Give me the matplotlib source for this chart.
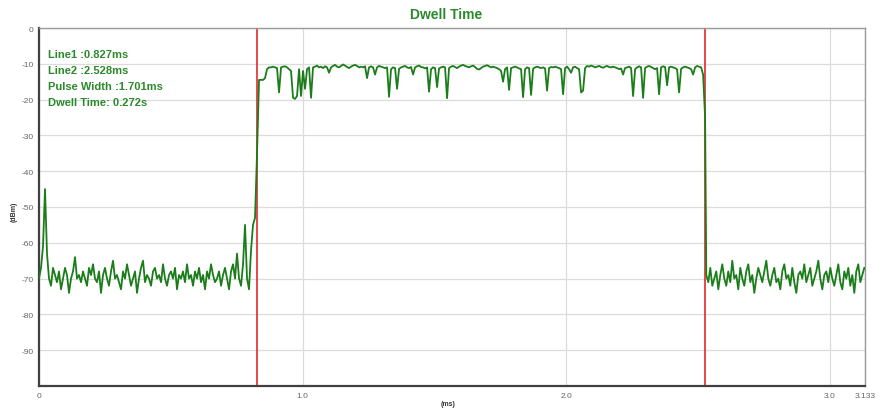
import numpy as np
import matplotlib
matplotlib.use("Agg")
import matplotlib.pyplot as plt

plt.rcParams['font.family'] = ['Liberation Sans', 'DejaVu Sans']

# ---- data ----
sample_interval_ms = 0.007587
pre_start_ms = 0.0
pulse_start_ms = 0.827
post_start_ms = 2.531
line1_ms = 0.827
line2_ms = 2.528
x_max_ms = 3.133

pre_dbm = [
    -70, -67, -61, -45, -63, -70, -72, -67, -69, -71,
    -68, -73, -70, -67, -69, -74, -70, -68, -64, -70,
    -69, -71, -68, -70, -72, -67, -69, -66, -70, -71,
    -68, -74, -69, -67, -70, -72, -68, -65, -70, -69,
    -71, -73, -68, -70, -66, -69, -72, -70, -68, -74,
    -70, -67, -65, -71, -69, -70, -72, -68, -67, -70,
    -69, -71, -66, -70, -72, -69, -68, -70, -67, -73,
    -69, -70, -68, -71, -66, -70, -69, -72, -68, -70,
    -67, -71, -69, -73, -68, -70, -66, -69, -71, -70,
    -68, -72, -69, -67, -70, -73, -68, -66, -70, -63,
    -70, -72, -66, -55, -70, -73, -62, -55, -53,
]

pulse_dbm = [
    -35, -14.5, -14.5, -14.5, -14, -11.5, -11, -11, -10.8, -11,
    -11.2, -18, -11, -10.8, -10.7, -11, -11.5, -12, -19.5, -19.8,
    -19, -11.5, -19, -12, -17, -11.5, -11, -19.5, -11, -10.8,
    -10.5, -11, -10.8, -11.2, -10.7, -11, -12.5, -11, -10.6, -10.3,
    -10.8, -11, -10.6, -10.2, -10.5, -10.9, -11.2, -10.8, -10.5, -10.3,
    -10.6, -11, -10.8, -11, -10.7, -14, -11, -10.7, -11, -13,
    -11, -10.6, -10.8, -11, -11.2, -11, -19.2, -11.5, -11, -11.2,
    -17, -11.4, -11, -10.8, -10.6, -11, -11.2, -10.9, -13, -11,
    -10.7, -10.5, -10.9, -11, -11.3, -11, -17.8, -11.5, -11, -11.2,
    -16.5, -11.3, -11, -10.8, -11, -19.6, -11.2, -10.8, -10.6, -10.9,
    -11.2, -10.8, -10.5, -10.3, -10.6, -10.8, -11, -10.7, -10.5, -10.9,
    -11.4, -11.6, -11.2, -10.8, -10.6, -10.4, -10.7, -11, -10.8, -11,
    -11.2, -11.5, -12, -15, -11.5, -11, -17.3, -11.2, -11, -10.8,
    -11, -11.3, -11.5, -19.3, -11.5, -11, -11.2, -18.7, -11.4, -11,
    -10.8, -11, -11.2, -11, -11.3, -17.5, -11.2, -10.9, -11, -10.8,
    -11, -11.2, -11.5, -18.5, -11.2, -10.8, -11.5, -12.5, -11, -10.8,
    -11.2, -11.5, -18, -17.5, -11.2, -10.6, -10.8, -10.5, -10.7, -11,
    -10.8, -10.6, -10.9, -11.1, -10.8, -10.6, -10.9, -11, -10.8, -11,
    -11.2, -11.5, -11.3, -13, -11.2, -11, -10.8, -11.2, -19, -11.5,
    -11, -10.7, -11, -19.5, -11.2, -10.8, -10.6, -10.9, -11.2, -11.5,
    -11.2, -18.5, -11, -10.7, -10.9, -16, -11, -10.8, -11, -11.2,
    -11.6, -18, -11.4, -11, -10.8, -11, -11.2, -11.5, -13, -11,
    -10.6, -10.8, -11, -13, -25,
]

post_dbm = [
    -69, -71, -67, -72, -70, -68, -73, -69, -66, -70,
    -72, -68, -71, -65, -70, -69, -73, -67, -70, -72,
    -68, -66, -71, -69, -74, -70, -67, -69, -71, -68,
    -65, -70, -72, -69, -67, -71, -70, -73, -68, -66,
    -70, -69, -72, -67, -71, -74, -69, -68, -70, -66,
    -71, -69, -67, -72, -70, -68, -65, -70, -73, -69,
    -68, -71, -67, -70, -72, -69, -66, -71, -73, -68,
    -70, -67, -72, -69, -74, -68, -66, -71, -69, -67,
]

x_ticks = [0, 1.0, 2.0, 3.0, 3.133]
x_tick_labels = ["0", "1.0", "2.0", "3.0", "3.133"]
y_ticks = [0, -10, -20, -30, -40, -50, -60, -70, -80, -90]
y_tick_labels = ["0", "-10", "-20", "-30", "-40", "-50", "-60", "-70", "-80", "-90"]

info_lines = ["Line1 :0.827ms", "Line2 :2.528ms", "Pulse Width :1.701ms", "Dwell Time: 0.272s"]

# ---- build trace ----
t_pre = pre_start_ms + np.arange(len(pre_dbm)) * sample_interval_ms
t_pulse = pulse_start_ms + np.arange(len(pulse_dbm)) * sample_interval_ms
t_post = post_start_ms + np.arange(len(post_dbm)) * sample_interval_ms
t_all = np.concatenate([t_pre, t_pulse, t_post])
v_all = np.concatenate([pre_dbm, pulse_dbm, post_dbm])

fig = plt.figure(figsize=(8.82, 4.14), dpi=100)
ax = fig.add_axes([39 / 882, 1 - 387 / 414, (865 - 39) / 882, (387 - 29) / 414])

ax.set_xlim(0, x_max_ms)
ax.set_ylim(-100, 0)
ax.set_xticks(x_ticks)
ax.set_xticklabels(x_tick_labels)
ax.set_yticks(y_ticks)
ax.set_yticklabels(y_tick_labels)
ax.tick_params(length=0, labelsize=6, colors='#666666', pad=4)
ax.grid(True, color='#dcdcdc', linewidth=0.9)
ax.set_axisbelow(True)

for side in ['top', 'right']:
    ax.spines[side].set_color('#9a9a9a')
    ax.spines[side].set_linewidth(1.0)
for side in ['left', 'bottom']:
    ax.spines[side].set_color('#404040')
    ax.spines[side].set_linewidth(1.6)

ax.axvline(line1_ms, color='#e03a3a', linewidth=1.3, zorder=2)
ax.axvline(line2_ms, color='#e03a3a', linewidth=1.3, zorder=2)

ax.plot(t_all, v_all, color='#1a7d1a', linewidth=1.3, zorder=3)

fig.text(446 / 882, 1 - 15 / 414, "Dwell Time", color='#2a8a2a', fontsize=10,
         fontweight='bold', ha='center', va='center')

for i, s in enumerate(info_lines):
    fig.text(48 / 882, 1 - (55 + 16 * i) / 414, s, color='#2a8a2a', fontsize=8,
             fontweight='bold', ha='left', va='center')

fig.text(14 / 882, 1 - 212 / 414, "(dBm)", rotation=90, fontsize=5, color='#333333',
         fontweight='bold', ha='center', va='center')
fig.text(448 / 882, 1 - 405 / 414, "(ms)", fontsize=5, color='#333333',
         fontweight='bold', ha='center', va='center')

fig.savefig("out.png", dpi=100)
